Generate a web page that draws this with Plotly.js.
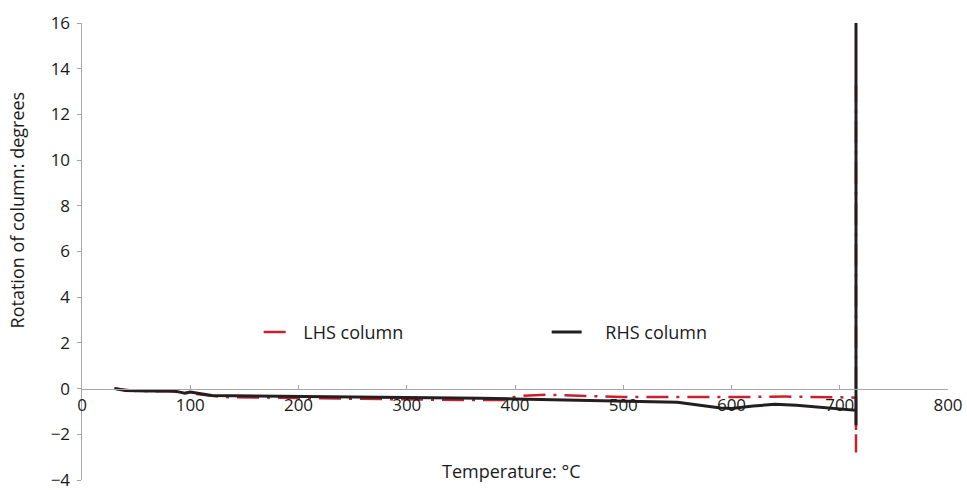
<!DOCTYPE html>
<html><head><meta charset="utf-8">
<script src="https://cdn.plot.ly/plotly-3.0.1.min.js"></script>
<style>html,body{margin:0;padding:0;background:#fff}#chart{width:967px;height:490px}</style>
</head><body><div id="chart"></div>
<script>
const seriesNames = ["LHS column", "RHS column"];
const lhsTemp = [30, 50, 80, 100, 130, 200, 300, 350, 390, 402, 430, 500, 600, 650, 700, 715, 715, 715];
const lhsRot  = [0, -0.1, -0.12, -0.2, -0.37, -0.42, -0.47, -0.5, -0.5, -0.33, -0.27, -0.37, -0.37, -0.35, -0.38, -0.4, -2.8, 13.3];
const rhsTemp = [30, 40, 60, 85, 95, 100, 120, 200, 300, 368, 400, 500, 550, 590, 600, 620, 640, 660, 700, 715, 715, 715];
const rhsRot  = [0, -0.08, -0.1, -0.1, -0.2, -0.15, -0.3, -0.33, -0.4, -0.42, -0.45, -0.55, -0.6, -0.85, -0.87, -0.76, -0.69, -0.73, -0.88, -0.95, -1.6, 16];
const yTicks = [-4, -2, 0, 2, 4, 6, 8, 10, 12, 14, 16];
const xTicks = [0, 100, 200, 300, 400, 500, 600, 700, 800];

const font = {family: "Open Sans, Noto Sans, sans-serif", size: 18, color: "#1a1a1a"};
const tickFont = {family: "Open Sans, Noto Sans, sans-serif", size: 17, color: "#1a1a1a"};
const traces = [
  {x: lhsTemp, y: lhsRot, name: "\u00a0" + seriesNames[0], mode: "lines", line: {color: "#c8202f", width: 2.5, dash: "22px,8px,3px,8px"}},
  {x: rhsTemp, y: rhsRot, name: "\u00a0\u00a0\u00a0\u00a0" + seriesNames[1], mode: "lines", line: {color: "#231f20", width: 3}}
];
const layout = {
  width: 967, height: 490,
  margin: {l: 82, r: 19, t: 23, b: 10},
  paper_bgcolor: "#fff", plot_bgcolor: "#fff",
  font: font,
  showlegend: true,
  legend: {orientation: "h", x: 0.204, y: 0.323, xanchor: "left", yanchor: "middle",
           itemwidth: 30, entrywidth: 243, entrywidthmode: "pixels", font: font, bgcolor: "rgba(0,0,0,0)"},
  xaxis: {range: [0, 800], tickvals: xTicks, ticktext: xTicks.map(String),
          showgrid: false, zeroline: false, showline: true, linecolor: "#a6a6a6", linewidth: 1.5,
          ticks: "inside", ticklen: 4, tickcolor: "#a6a6a6", anchor: "free", position: 0.2,
          tickfont: tickFont, ticklabeloverflow: "allow"},
  yaxis: {range: [-4, 16], tickvals: yTicks, ticktext: yTicks.map(v => v < 0 ? "\u2212" + Math.abs(v) : String(v)),
          showgrid: false, zeroline: false, showline: true, linecolor: "#a6a6a6", linewidth: 1.5,
          ticks: "outside", ticklen: 4, tickcolor: "#a6a6a6", tickfont: tickFont, ticklabelstandoff: 3,
          ticklabeloverflow: "allow"},
  annotations: [
    {text: "Rotation of column: degrees", xref: "paper", yref: "paper", x: -0.075, y: 0.59,
     textangle: -90, showarrow: false, font: font, xanchor: "center", yanchor: "middle"},
    {text: "Temperature: °C", xref: "paper", yref: "paper", x: 0.496, y: 0.02,
     showarrow: false, font: font, xanchor: "center", yanchor: "middle"}
  ]
};
Plotly.newPlot("chart", traces, layout, {displayModeBar: false, staticPlot: true});
</script></body></html>
